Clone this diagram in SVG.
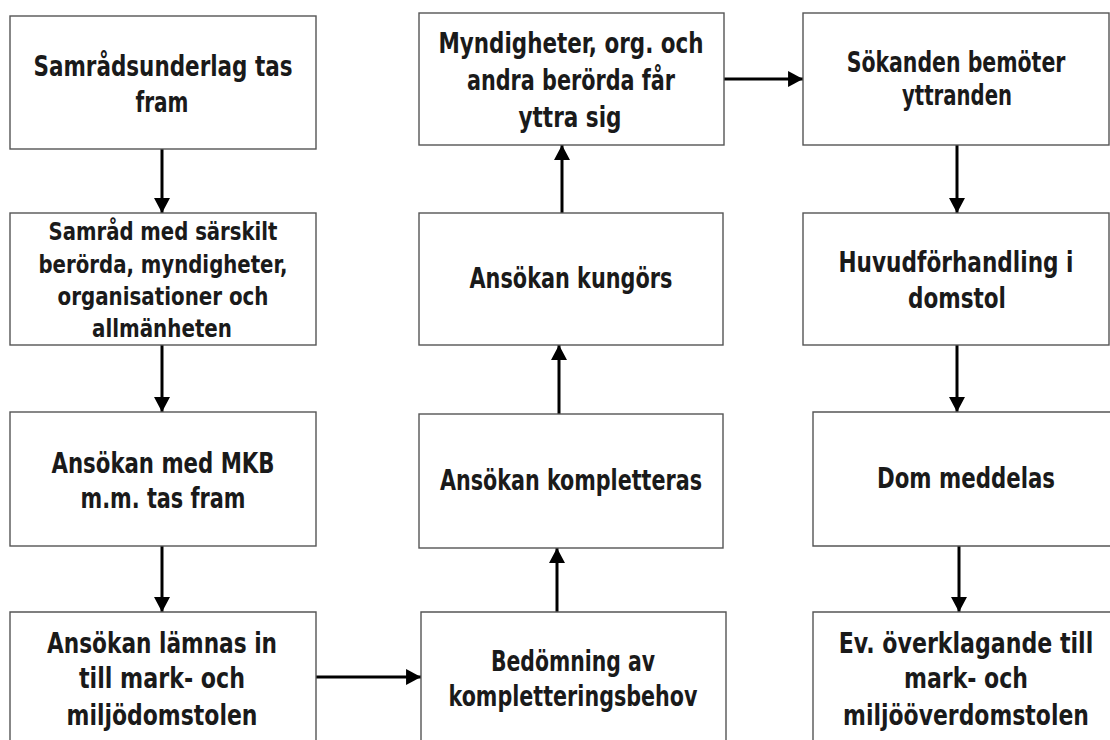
<svg xmlns="http://www.w3.org/2000/svg" width="1110" height="740" viewBox="0 0 1110 740">
<defs>
<style>
.box{fill:#fff;stroke:#555;stroke-width:1.4}
.t{font-family:"DejaVu Sans Condensed","DejaVu Sans",sans-serif;font-stretch:condensed;font-weight:bold;font-size:28px;fill:#1a1a1a;text-anchor:middle}
.s{font-size:24px}
.c{stroke:#000;stroke-width:3;fill:none;marker-end:url(#ah)}
</style>
<marker id="ah" markerUnits="userSpaceOnUse" markerWidth="16" markerHeight="16" viewBox="0 0 14 15" refX="14" refY="7.5" orient="auto">
<path d="M0,0 L14,7.5 L0,15 Z" fill="#000"/>
</marker>
</defs>
<rect width="1110" height="740" fill="#fff"/>
<g id="connectors">
<line class="c" x1="162" y1="149" x2="162" y2="213"/>
<line class="c" x1="162" y1="345" x2="162" y2="412"/>
<line class="c" x1="162" y1="546" x2="162" y2="612"/>
<line class="c" x1="316" y1="677" x2="421" y2="677"/>
<line class="c" x1="557" y1="612" x2="557" y2="548"/>
<line class="c" x1="559" y1="414" x2="559" y2="345"/>
<line class="c" x1="562" y1="213" x2="562" y2="145"/>
<line class="c" x1="724" y1="79" x2="803" y2="79"/>
<line class="c" x1="957" y1="145" x2="957" y2="213"/>
<line class="c" x1="957" y1="345" x2="957" y2="412"/>
<line class="c" x1="959" y1="546" x2="959" y2="612"/>
</g>
<g id="n1"><rect class="box" x="10" y="16" width="306" height="133"/>
<text class="t" x="163" y="76" textLength="259" lengthAdjust="spacingAndGlyphs">Samrådsunderlag tas</text><text class="t" x="162" y="112" textLength="53" lengthAdjust="spacingAndGlyphs">fram</text></g>
<g id="n2"><rect class="box" x="10" y="213" width="306" height="132"/>
<text class="t s" x="163" y="240" textLength="229" lengthAdjust="spacingAndGlyphs">Samråd med särskilt</text><text class="t s" x="163" y="273" textLength="249" lengthAdjust="spacingAndGlyphs">berörda, myndigheter,</text><text class="t s" x="163" y="305" textLength="211" lengthAdjust="spacingAndGlyphs">organisationer och</text><text class="t s" x="162" y="337" textLength="140" lengthAdjust="spacingAndGlyphs">allmänheten</text></g>
<g id="n3"><rect class="box" x="10" y="412" width="306" height="134"/>
<text class="t" x="163" y="473" textLength="223" lengthAdjust="spacingAndGlyphs">Ansökan med MKB</text><text class="t" x="163" y="508" textLength="165" lengthAdjust="spacingAndGlyphs">m.m. tas fram</text></g>
<g id="n4"><path class="box" d="M10,741 V612 H316 V741"/>
<text class="t" x="162" y="653" textLength="230" lengthAdjust="spacingAndGlyphs">Ansökan lämnas in</text><text class="t" x="162" y="688" textLength="166" lengthAdjust="spacingAndGlyphs">till mark- och</text><text class="t" x="162" y="725" textLength="191" lengthAdjust="spacingAndGlyphs">miljödomstolen</text></g>
<g id="n5"><path class="box" d="M421,741 V612 H726 V741"/>
<text class="t" x="573" y="671" textLength="164" lengthAdjust="spacingAndGlyphs">Bedömning av</text><text class="t" x="573" y="706" textLength="249" lengthAdjust="spacingAndGlyphs">kompletteringsbehov</text></g>
<g id="n6"><rect class="box" x="419" y="414" width="304" height="134"/>
<text class="t" x="571" y="490" textLength="262" lengthAdjust="spacingAndGlyphs">Ansökan kompletteras</text></g>
<g id="n7"><rect class="box" x="419" y="213" width="304" height="132"/>
<text class="t" x="571" y="288" textLength="203" lengthAdjust="spacingAndGlyphs">Ansökan kungörs</text></g>
<g id="n8"><rect class="box" x="419" y="13" width="305" height="132"/>
<text class="t" x="571" y="53" textLength="265" lengthAdjust="spacingAndGlyphs">Myndigheter, org. och</text><text class="t" x="571" y="90" textLength="208" lengthAdjust="spacingAndGlyphs">andra berörda får</text><text class="t" x="570" y="127" textLength="103" lengthAdjust="spacingAndGlyphs">yttra sig</text></g>
<g id="n9"><rect class="box" x="803" y="13" width="306" height="132"/>
<text class="t" transform="translate(956,72) scale(0.813,1)">Sökanden bemöter</text><text class="t" x="957" y="105" textLength="110" lengthAdjust="spacingAndGlyphs">yttranden</text></g>
<g id="n10"><rect class="box" x="803" y="213" width="306" height="132"/>
<text class="t" x="956" y="272" textLength="235" lengthAdjust="spacingAndGlyphs">Huvudförhandling i</text><text class="t" x="957" y="308" textLength="98" lengthAdjust="spacingAndGlyphs">domstol</text></g>
<g id="n11"><path class="box" d="M1111,412 H813 V546 H1111"/>
<text class="t" x="966" y="488" textLength="178" lengthAdjust="spacingAndGlyphs">Dom meddelas</text></g>
<g id="n12"><path class="box" d="M1111,612 H813 V741"/>
<text class="t" transform="translate(966,653) scale(0.878,1)">Ev. överklagande till</text><text class="t" x="966" y="688" textLength="124" lengthAdjust="spacingAndGlyphs">mark- och</text><text class="t" transform="translate(966,725) scale(0.871,1)">miljööverdomstolen</text></g>
</svg>
